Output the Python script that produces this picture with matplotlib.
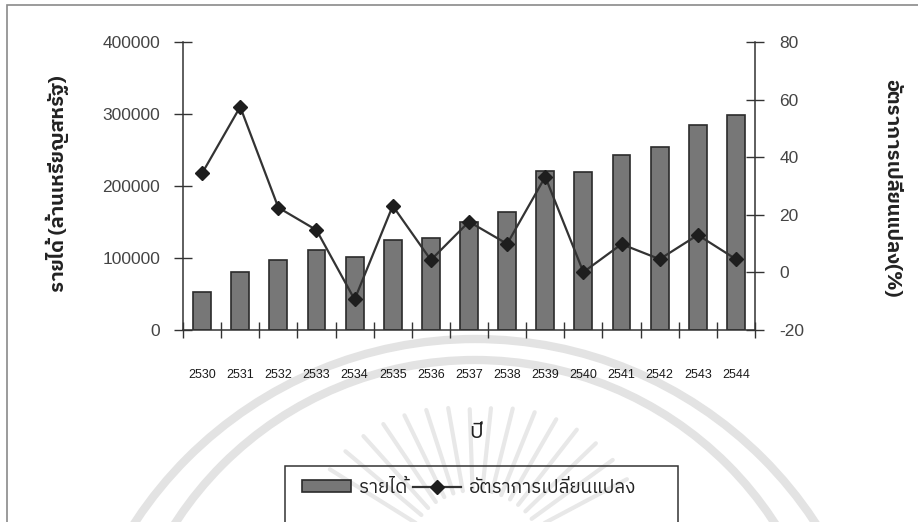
import matplotlib
matplotlib.use("Agg")
import matplotlib.pyplot as plt
import numpy as np
from matplotlib import font_manager
from matplotlib.ft2font import FT2Font
from matplotlib.patches import Rectangle, Arc
from matplotlib.lines import Line2D

# ---- data ----
years = ['2530', '2531', '2532', '2533', '2534', '2535', '2536', '2537',
         '2538', '2539', '2540', '2541', '2542', '2543', '2544']
income = [53000, 80000, 97000, 111000, 102000, 124500, 127500, 150500,
          164000, 221000, 220000, 242500, 254000, 284500, 299000]
change_pct = [34.4, 57.5, 22.5, 14.7, -9.4, 23.1, 4.3, 17.6,
              9.9, 33.2, 0.1, 9.8, 4.6, 13.0, 4.6]

income_ticks = [0, 100000, 200000, 300000, 400000]
pct_ticks = [-20, 0, 20, 40, 60, 80]

ylabel_left = 'รายได้ (ล้านเหรียญสหรัฐ)'
ylabel_right = 'อัตราการเปลี่ยนแปลง(%)'
xlabel = 'ปี'
legend_labels = ['รายได้', 'อัตราการเปลี่ยนแปลง']


def find_thai_font():
    """pick an installed family that actually has Thai glyphs"""
    found = []
    for f in font_manager.fontManager.ttflist:
        try:
            cmap = FT2Font(f.fname).get_charmap()
        except Exception:
            continue
        if 0x0E23 in cmap and 0x0E31 in cmap:
            found.append(f.name)
    if not found:
        return 'DejaVu Sans'
    for name in found:
        if 'Thai' in name and 'Looped' not in name:
            return name
    return found[0]


thai = find_thai_font()
plt.rcParams['font.family'] = [thai, 'Liberation Sans', 'DejaVu Sans']

installed = {f.name for f in font_manager.fontManager.ttflist}
if 'Liberation Sans Narrow' in installed:
    year_font, year_size = 'Liberation Sans Narrow', 11
else:
    year_font, year_size = 'Liberation Sans', 9

W, H = 918, 522
fig = plt.figure(figsize=(W / 100, H / 100), dpi=100)


def fx(px):
    return px / W


def fy(py):
    return 1 - py / H


# faint stamp in the background, drawn in pixel units
bg = fig.add_axes([0, 0, 1, 1], zorder=-5)
bg.set_xlim(0, W)
bg.set_ylim(H, 0)
bg.axis('off')
stamp = '#e3e3e3'
bg.add_patch(Arc((475, 746), 2 * 407, 2 * 407, theta1=180, theta2=360,
                 color=stamp, linewidth=6))
bg.add_patch(Arc((475, 717), 2 * 357, 2 * 357, theta1=180, theta2=360,
                 color=stamp, linewidth=6))
for ang in np.arange(28, 156, 8):
    t = np.deg2rad(ang)
    r0, r1 = 70, 150 + 25 * abs(np.cos(t))
    bg.plot([475 + r0 * np.cos(t), 475 + r1 * np.cos(t)],
            [560 - r0 * np.sin(t), 560 - r1 * np.sin(t)],
            color='#e8e8e8', linewidth=3, solid_capstyle='round')

# outer frame of the chart area
fig.patches.append(Rectangle((fx(7), fy(560)), fx(960) - fx(7), fy(5) - fy(560),
                             transform=fig.transFigure, fill=False,
                             edgecolor='#8a8a8a', linewidth=1.2))

ax = fig.add_axes([fx(183), fy(330), fx(755) - fx(183), fy(42) - fy(330)])
ax2 = ax.twinx()

x = np.arange(len(years))
ax.bar(x, income, width=0.47, color='#777777', edgecolor='#2b2b2b', linewidth=1.2,
       zorder=2)
ax2.plot(x, change_pct, color='#333333', linewidth=1.6, marker='D', markersize=7,
         markerfacecolor='#1e1e1e', markeredgecolor='#1e1e1e', zorder=3)

ax.set_xlim(-0.5, len(years) - 0.5)
ax.set_ylim(0, 400000)
ax2.set_ylim(-20, 80)

ax.set_yticks(income_ticks)
ax.set_yticklabels([str(v) for v in income_ticks])
ax2.set_yticks(pct_ticks)
ax2.set_yticklabels([str(v) for v in pct_ticks])

ax.set_xticks(x)
ax.set_xticklabels(years, family=[year_font, 'DejaVu Sans'],
                   fontsize=year_size, color='#1a1a1a')
ax.set_xticks(np.arange(-0.5, len(years)), minor=True)
ax.tick_params(axis='x', which='major', length=0, pad=28)
ax.tick_params(axis='x', which='minor', direction='inout', length=12, width=1,
               color='#333333')

for a in (ax, ax2):
    a.spines['top'].set_visible(False)
    for s in ('left', 'right', 'bottom'):
        a.spines[s].set_color('#333333')
        a.spines[s].set_linewidth(1.1)
ax.spines['right'].set_visible(False)
ax2.spines['left'].set_visible(False)
ax2.spines['bottom'].set_visible(False)

ax.tick_params(axis='y', direction='inout', length=13, width=1, pad=10,
               labelsize=12.5, labelcolor='#444444', color='#333333')
ax2.tick_params(axis='y', direction='inout', length=13, width=1, pad=11,
                labelsize=12.5, labelcolor='#444444', color='#333333')
for lab in ax.get_yticklabels() + ax2.get_yticklabels():
    lab.set_family(['Liberation Sans', 'DejaVu Sans'])

ax.set_zorder(1)
ax2.set_zorder(2)
ax.patch.set_visible(False)

# axis titles
fig.text(fx(57), fy(184), ylabel_left, rotation=90, ha='center', va='center',
         fontsize=14.5, fontweight='bold', color='#222222')
fig.text(fx(892), fy(188), ylabel_right, rotation=270, ha='center', va='center',
         fontsize=14.5, fontweight='bold', color='#222222')
fig.text(fx(476), fy(432), xlabel, ha='center', va='center', fontsize=16,
         color='#222222')

# legend box running off the bottom edge
fig.patches.append(Rectangle((fx(285), fy(560)), fx(678) - fx(285), fy(466) - fy(560),
                             transform=fig.transFigure, fill=False,
                             edgecolor='#333333', linewidth=1.1))
handles = [Rectangle((0, 0), 1, 1, facecolor='#777777', edgecolor='#2b2b2b',
                     linewidth=1.2),
           Line2D([], [], color='#333333', linewidth=1.6, marker='D', markersize=7,
                  markerfacecolor='#1e1e1e', markeredgecolor='#1e1e1e')]
fig.legend(handles, legend_labels, loc='center left',
           bbox_to_anchor=(fx(293), fy(488)), ncol=2, frameon=False, borderpad=0,
           fontsize=13.5, handlelength=2.6, handleheight=0.6, handletextpad=0.4,
           columnspacing=0.3, labelcolor='#222222')

fig.savefig('out.png', dpi=100)
